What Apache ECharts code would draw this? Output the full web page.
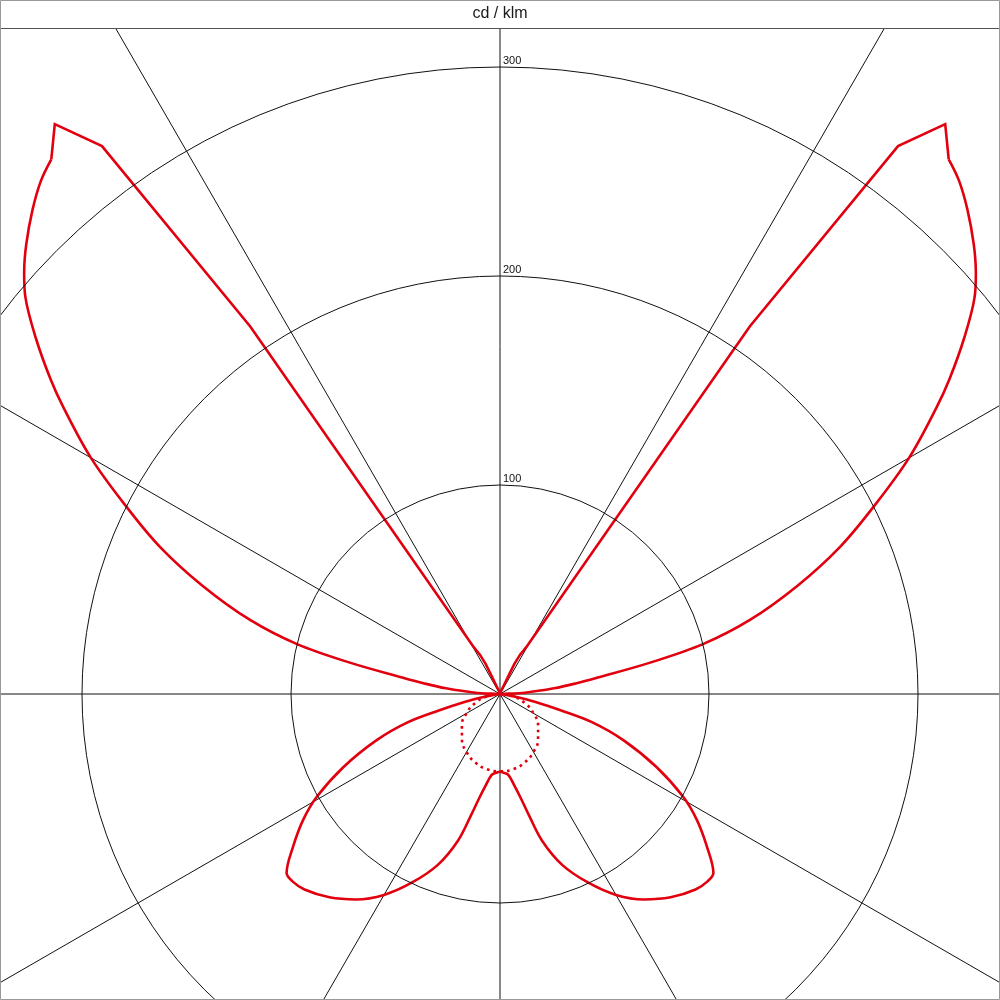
<!DOCTYPE html>
<html>
<head>
<meta charset="utf-8">
<script src="https://cdn.jsdelivr.net/npm/echarts@6/dist/echarts.min.js"></script>
<style>
html,body{margin:0;padding:0;background:#fff;}
#chart{width:1000px;height:1000px;}
</style>
</head>
<body>
<div id="chart"></div>
<script>
// Title / unit
const unitLabel = 'cd / klm';
// Radius tick labels shown
const radiusTicks = [100, 200, 300];

// C0-C180 plane, one half (gamma measured from nadir), mirrored for the other half
const planeGamma = [0, 3, 6, 9, 11.5, 13.5, 16, 20, 25, 30, 35, 40, 45, 48, 50, 53.6, 57.4, 60.7, 65, 69.5, 73, 75, 77.5, 80, 85, 90,
  93, 96, 98, 99.5, 101.8, 103.8, 106.5, 110, 113.4, 116.7, 120, 123.3, 125, 127.5, 129.9, 131.5, 133.5, 136, 138.2, 140, 142, 144, 145.8,
  150.5, 153, 154.5, 155, 156, 160, 180];
const planeValues = [37.2, 37.8, 39, 44.5, 51.5, 60, 73, 87, 99.5, 111, 120, 127, 132.3, 133.8, 133.3, 123, 111.8, 100.5, 82.6, 63, 46, 30, 17, 8, 2, 0.5,
  12, 26, 37, 47, 73.4, 100, 124.7, 151.5, 177.3, 200.5, 226, 250, 262.5, 280, 296, 304, 312.5, 322, 329.5, 334, 346, 324, 212.6,
  26.5, 21, 16, 10, 5, 1.5, 0];

// C90-C270 plane (dotted), one half
const dotGamma = [0, 10, 20, 30, 40, 50, 60, 70, 80, 85];
const dotValues = [37, 36.5, 34.8, 32, 28.3, 23.8, 18.5, 12.6, 6.4, 3.2];

// Angle axis starts at top and runs clockwise, so nadir = 180.
// Left half: angle = 180 + gamma, right half: angle = 180 - gamma.
function mirror(gammas, values) {
  const out = [];
  for (let i = gammas.length - 1; i >= 0; i--) out.push([values[i], 180 + gammas[i]]);
  for (let i = 1; i < gammas.length; i++) out.push([values[i], 180 - gammas[i]]);
  return out;
}
// Smooth part: lower lobes and outer wings up to the kink; sharp part: peaks, inner edges, hooks.
const kink = planeGamma.indexOf(140);
const smoothPart = mirror(planeGamma.slice(0, kink + 1), planeValues.slice(0, kink + 1));
const sharpPart = [];
for (let i = kink; i < planeGamma.length; i++) sharpPart.push([planeValues[i], 180 - planeGamma[i]]);
for (let i = planeGamma.length - 1; i >= kink; i--) sharpPart.push([planeValues[i], 180 + planeGamma[i]]);

const RED = '#e2000f';
const GRID = '#111';

const chart = echarts.init(document.getElementById('chart'), null, {renderer: 'canvas'});
chart.setOption({
  animation: false,
  backgroundColor: '#fff',
  polar: { center: [500, 694], radius: 836 },
  angleAxis: {
    type: 'value', min: 0, max: 360, interval: 30, startAngle: 90, clockwise: true,
    axisLine: { show: false }, axisTick: { show: false }, axisLabel: { show: false },
    splitLine: { show: true, lineStyle: { color: GRID, width: 1 } }
  },
  radiusAxis: {
    type: 'value', min: 0, max: 400, interval: 100,
    axisLine: { show: false }, axisTick: { show: false },
    splitLine: { show: true, lineStyle: { color: GRID, width: 1 } },
    axisLabel: {
      show: true, margin: -3, align: 'left', verticalAlign: 'bottom',
      padding: [0, 0, 1, 0],
      fontFamily: 'Liberation Sans', fontSize: 11, color: '#111',
      formatter: function (v) { return radiusTicks.indexOf(v) >= 0 ? String(v) : ''; }
    },
    z: 10
  },
  series: [
    {
      type: 'line', coordinateSystem: 'polar', symbol: 'none', smooth: 0.35,
      lineStyle: { color: RED, width: 2.6, join: 'round' },
      data: smoothPart, z: 5
    },
    {
      type: 'line', coordinateSystem: 'polar', symbol: 'none', smooth: false,
      lineStyle: { color: RED, width: 2.6, join: 'miter' },
      data: sharpPart, z: 5
    },
    {
      type: 'line', coordinateSystem: 'polar', symbol: 'none', smooth: true,
      lineStyle: { color: RED, width: 2.6, type: [2.6, 4.2], cap: 'butt' },
      data: mirror(dotGamma, dotValues), z: 4
    }
  ],
  graphic: {
    elements: [
      { type: 'rect', z: 100, shape: { x: 0, y: 0, width: 1000, height: 28 }, style: { fill: '#fff' } },
      { type: 'line', z: 101, shape: { x1: 0, y1: 28.5, x2: 1000, y2: 28.5 }, style: { stroke: '#555', lineWidth: 1 } },
      { type: 'rect', z: 101, shape: { x: 0.5, y: 0.5, width: 999, height: 999 }, style: { fill: 'none', stroke: '#999', lineWidth: 1 } },
      { type: 'text', z: 102, x: 500, y: 14, style: { text: unitLabel, fontFamily: 'Liberation Sans', fontSize: 16, fill: '#1a1a1a', align: 'center', verticalAlign: 'middle' } }
    ]
  }
});
</script>
</body>
</html>
